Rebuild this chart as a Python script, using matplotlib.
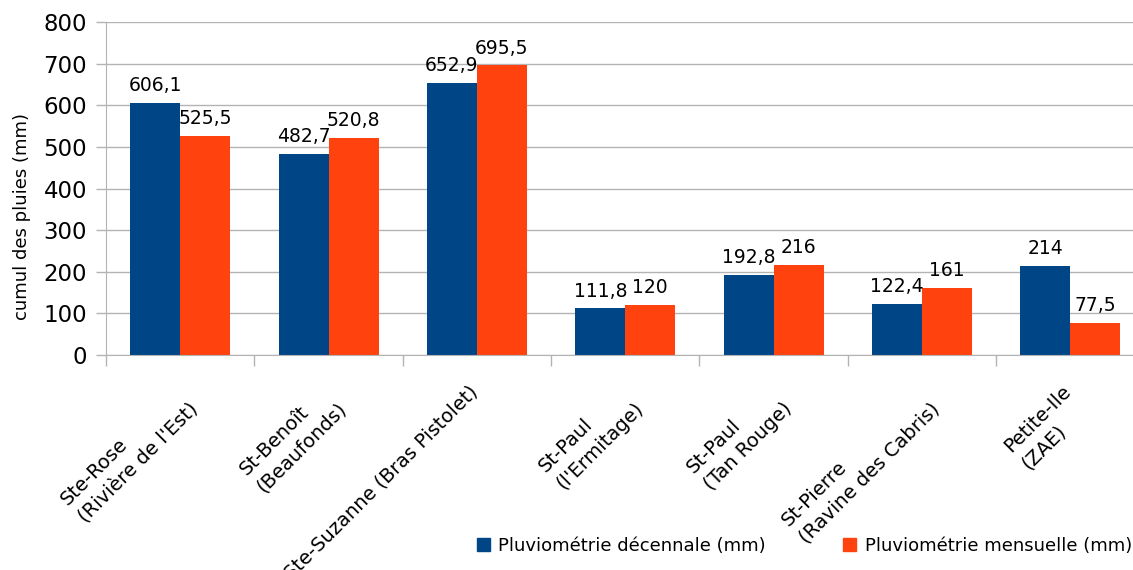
import matplotlib.pyplot as plt
import numpy as np
from matplotlib.patches import Patch
from matplotlib.transforms import ScaledTranslation

stations = [
    "Ste-Rose\n(Rivière de l'Est)",
    "St-Benoît\n(Beaufonds)",
    "Ste-Suzanne (Bras Pistolet)",
    "St-Paul\n(l'Ermitage)",
    "St-Paul\n(Tan Rouge)",
    "St-Pierre\n(Ravine des Cabris)",
    "Petite-Ile\n(ZAE)",
]
decennale = [606.1, 482.7, 652.9, 111.8, 192.8, 122.4, 214]
mensuelle = [525.5, 520.8, 695.5, 120, 216, 161, 77.5]
series_names = ["Pluviométrie décennale (mm)", "Pluviométrie mensuelle (mm)"]

BLUE = "#004586"
ORANGE = "#ff420e"
GRID = "#b3b3b3"


def fmt(v: float) -> str:
    return f"{v:g}".replace(".", ",")


fig = plt.figure(figsize=(11.33, 5.70), dpi=100)
ax = fig.add_axes([106 / 1133, 1 - 355 / 570, (1144.5 - 106) / 1133, 333 / 570])

x = np.arange(len(stations))
w = 0.337
for offs, vals, col in [(-w / 2, decennale, BLUE), (w / 2, mensuelle, ORANGE)]:
    bars = ax.bar(x + offs, vals, width=w, color=col, zorder=2)
    for b, v in zip(bars, vals):
        ax.annotate(
            fmt(v),
            (b.get_x() + b.get_width() / 2, v),
            xytext=(0, 8.5),
            textcoords="offset points",
            ha="center",
            va="baseline",
            fontsize=13.5,
        )

ax.set_xlim(-0.5, len(stations) - 0.5)
ax.set_ylim(0, 800)
ax.set_yticks(np.arange(0, 801, 100))
ax.tick_params(axis="y", labelsize=16.5, length=7.2, pad=6.5, color=GRID, width=1)
ax.grid(True, axis="y", color=GRID, linewidth=1, zorder=0)

# station names under the bars (lines left aligned), tick marks between groups
ax.set_xticks(x)
ax.set_xticklabels(
    stations,
    rotation=45,
    ha="right",
    va="top",
    rotation_mode="anchor",
    multialignment="left",
    linespacing=1.35,
    fontsize=14,
)
ax.tick_params(axis="x", which="major", length=0, pad=19.5)
shift = ScaledTranslation(-9 / 100, 0, fig.dpi_scale_trans)
for lab in ax.get_xticklabels():
    lab.set_transform(lab.get_transform() + shift)
ax.set_xticks(np.arange(-0.5, len(stations) + 0.5, 1), minor=True)
ax.tick_params(axis="x", which="minor", length=8, color=GRID, width=1)

for side in ["top", "right"]:
    ax.spines[side].set_visible(False)
for side in ["left", "bottom"]:
    ax.spines[side].set_color(GRID)

fig.text(22 / 1133, 1 - 216 / 570, "cumul des pluies (mm)", rotation=90,
         ha="center", va="center", fontsize=13)

handles = [Patch(color=BLUE), Patch(color=ORANGE)]
fig.legend(
    handles,
    series_names,
    loc="center left",
    bbox_to_anchor=(477 / 1133, 1 - 546 / 570),
    ncol=2,
    frameon=False,
    fontsize=13,
    borderpad=0,
    borderaxespad=0,
    handlelength=0.72,
    handleheight=0.72,
    handletextpad=0.45,
    columnspacing=4.3,
)

fig.savefig("out.png", dpi=100)
